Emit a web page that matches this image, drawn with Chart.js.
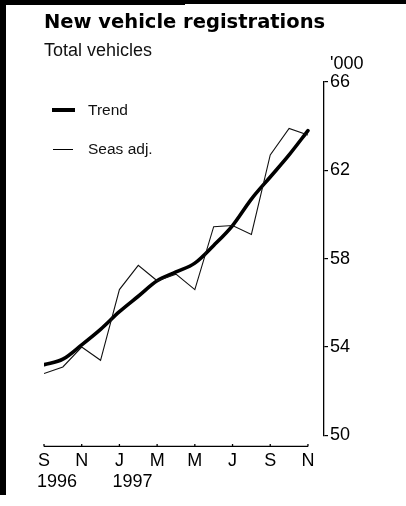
<!DOCTYPE html>
<html>
<head>
<meta charset="utf-8">
<script src="https://cdn.jsdelivr.net/npm/chart.js@4/dist/chart.umd.min.js"></script>
<style>
  html, body { margin: 0; padding: 0; background: #fff; }
  #wrap { position: relative; width: 406px; height: 506px; overflow: hidden; }
  #chart { position: absolute; left: 0; top: 0; }
  .edge { position: absolute; background: #000; }
  .lg-row { position: absolute; left: 52px; height: 20px; display: flex; align-items: center;
            font-family: 'Liberation Sans', Arial, sans-serif; font-size: 15.5px; color: #111; }
  .lg-line { background: #000; margin-right: 13px; }
</style>
</head>
<body>
<div id="wrap">
  <canvas id="chart" width="406" height="506"></canvas>
  <!-- scanned page edges -->
  <div class="edge" style="left:0;top:0;width:406px;height:4px"></div>
  <div class="edge" style="left:0;top:0;width:185px;height:5px"></div>
  <div class="edge" style="left:0;top:0;width:6px;height:495px"></div>
  <!-- legend -->
  <div class="lg-row" style="top:100px"><span class="lg-line" style="width:23px;height:4px"></span>Trend</div>
  <div class="lg-row" style="top:139px"><span class="lg-line" style="width:20px;height:1px;margin-left:1px;margin-right:15px"></span>Seas adj.</div>
</div>
<script>
/* ── DATA (monthly, Sep 1996 – Nov 1997, thousands) ── */
const MONTHS   = ['S96','O96','N96','D96','J97','F97','M97','A97','M97','J97','J97','A97','S97','O97','N97'];
const SEAS_ADJ = [52.8, 53.1, 54.0, 53.4, 56.6, 57.7, 57.0, 57.3, 56.6, 59.45, 59.5, 59.1, 62.7, 63.9, 63.6];
const TREND    = [53.2, 53.45, 54.1, 54.8, 55.6, 56.3, 57.0, 57.4, 57.8, 58.6, 59.5, 60.7, 61.7, 62.7, 63.8];

const X_TICKS    = [0, 2, 4, 6, 8, 10, 12, 14];
const X_LABELS   = ['S', 'N', 'J', 'M', 'M', 'J', 'S', 'N'];
const YEAR_TICKS = [0, 4];
const YEAR_LBLS  = ['1996', '1997'];
const Y_TICKS    = [50, 54, 58, 62, 66];

const FONT = "'Liberation Sans', Arial, sans-serif";

/* ── extra axis bits: x baseline, year row, '000 unit ── */
const axisExtras = {
  id: 'axisExtras',
  afterDraw(chart) {
    const { ctx, chartArea } = chart;
    const xs = chart.scales.x, ys = chart.scales.y;
    const yBase = chartArea.bottom + 11;
    ctx.save();
    ctx.strokeStyle = '#000';
    ctx.lineWidth = 1.3;
    ctx.beginPath();
    ctx.moveTo(xs.getPixelForValue(X_TICKS[0]), yBase);
    ctx.lineTo(xs.getPixelForValue(X_TICKS[X_TICKS.length - 1]), yBase);
    X_TICKS.forEach(v => {
      const px = xs.getPixelForValue(v);
      ctx.moveTo(px, yBase);
      ctx.lineTo(px, yBase - 2.5);
    });
    ctx.stroke();

    ctx.fillStyle = '#000';
    ctx.font = `18px ${FONT}`;
    ctx.textAlign = 'left';
    ctx.textBaseline = 'alphabetic';
    YEAR_TICKS.forEach((v, i) => {
      ctx.fillText(YEAR_LBLS[i], xs.getPixelForValue(v) - 7, yBase + 41);
    });

    ctx.fillText("'000", ys.left + 6, chartArea.top - 13);
    ctx.restore();
  }
};

const ctx = document.getElementById('chart').getContext('2d');
new Chart(ctx, {
  type: 'line',
  data: {
    datasets: [
      {
        label: 'Seas adj.',
        data: SEAS_ADJ.map((v, i) => ({ x: i, y: v })),
        borderColor: '#111',
        borderWidth: 1.1,
        tension: 0,
        pointRadius: 0,
      },
      {
        label: 'Trend',
        data: TREND.map((v, i) => ({ x: i, y: v })),
        borderColor: '#000',
        borderWidth: 3.6,
        tension: 0.4,
        cubicInterpolationMode: 'monotone',
        pointRadius: 0,
        borderCapStyle: 'round',
      },
    ],
  },
  options: {
    responsive: false,
    animation: false,
    layout: { padding: { left: 44, right: 54, top: 0, bottom: 27 } },
    plugins: {
      legend: { display: false },
      tooltip: { enabled: false },
      title: {
        display: true,
        text: 'New vehicle registrations',
        align: 'start',
        color: '#000',
        font: { family: "'DejaVu Sans', sans-serif", size: 19.5, weight: 'bold' },
        padding: { top: 11, bottom: 0 },
      },
      subtitle: {
        display: true,
        text: 'Total vehicles',
        align: 'start',
        color: '#111',
        font: { family: FONT, size: 18 },
        padding: { top: 6, bottom: 20 },
      },
    },
    scales: {
      x: {
        type: 'linear',
        min: 0,
        max: 14.85,
        border: { display: false },
        grid: { display: false },
        afterBuildTicks: s => { s.ticks = X_TICKS.map(v => ({ value: v })); },
        ticks: {
          color: '#000',
          font: { family: FONT, size: 18 },
          padding: 7,
          maxRotation: 0,
          callback: v => X_LABELS[X_TICKS.indexOf(v)],
        },
      },
      y: {
        position: 'right',
        min: 50,
        max: 66,
        border: { display: true, color: '#000', width: 1.3 },
        grid: { drawOnChartArea: false, color: '#000', tickLength: 4, lineWidth: 1.2 },
        afterBuildTicks: s => { s.ticks = Y_TICKS.map(v => ({ value: v })); },
        ticks: {
          color: '#000',
          font: { family: FONT, size: 18 },
          padding: 2,
        },
      },
    },
  },
  plugins: [axisExtras],
});
</script>
</body>
</html>
